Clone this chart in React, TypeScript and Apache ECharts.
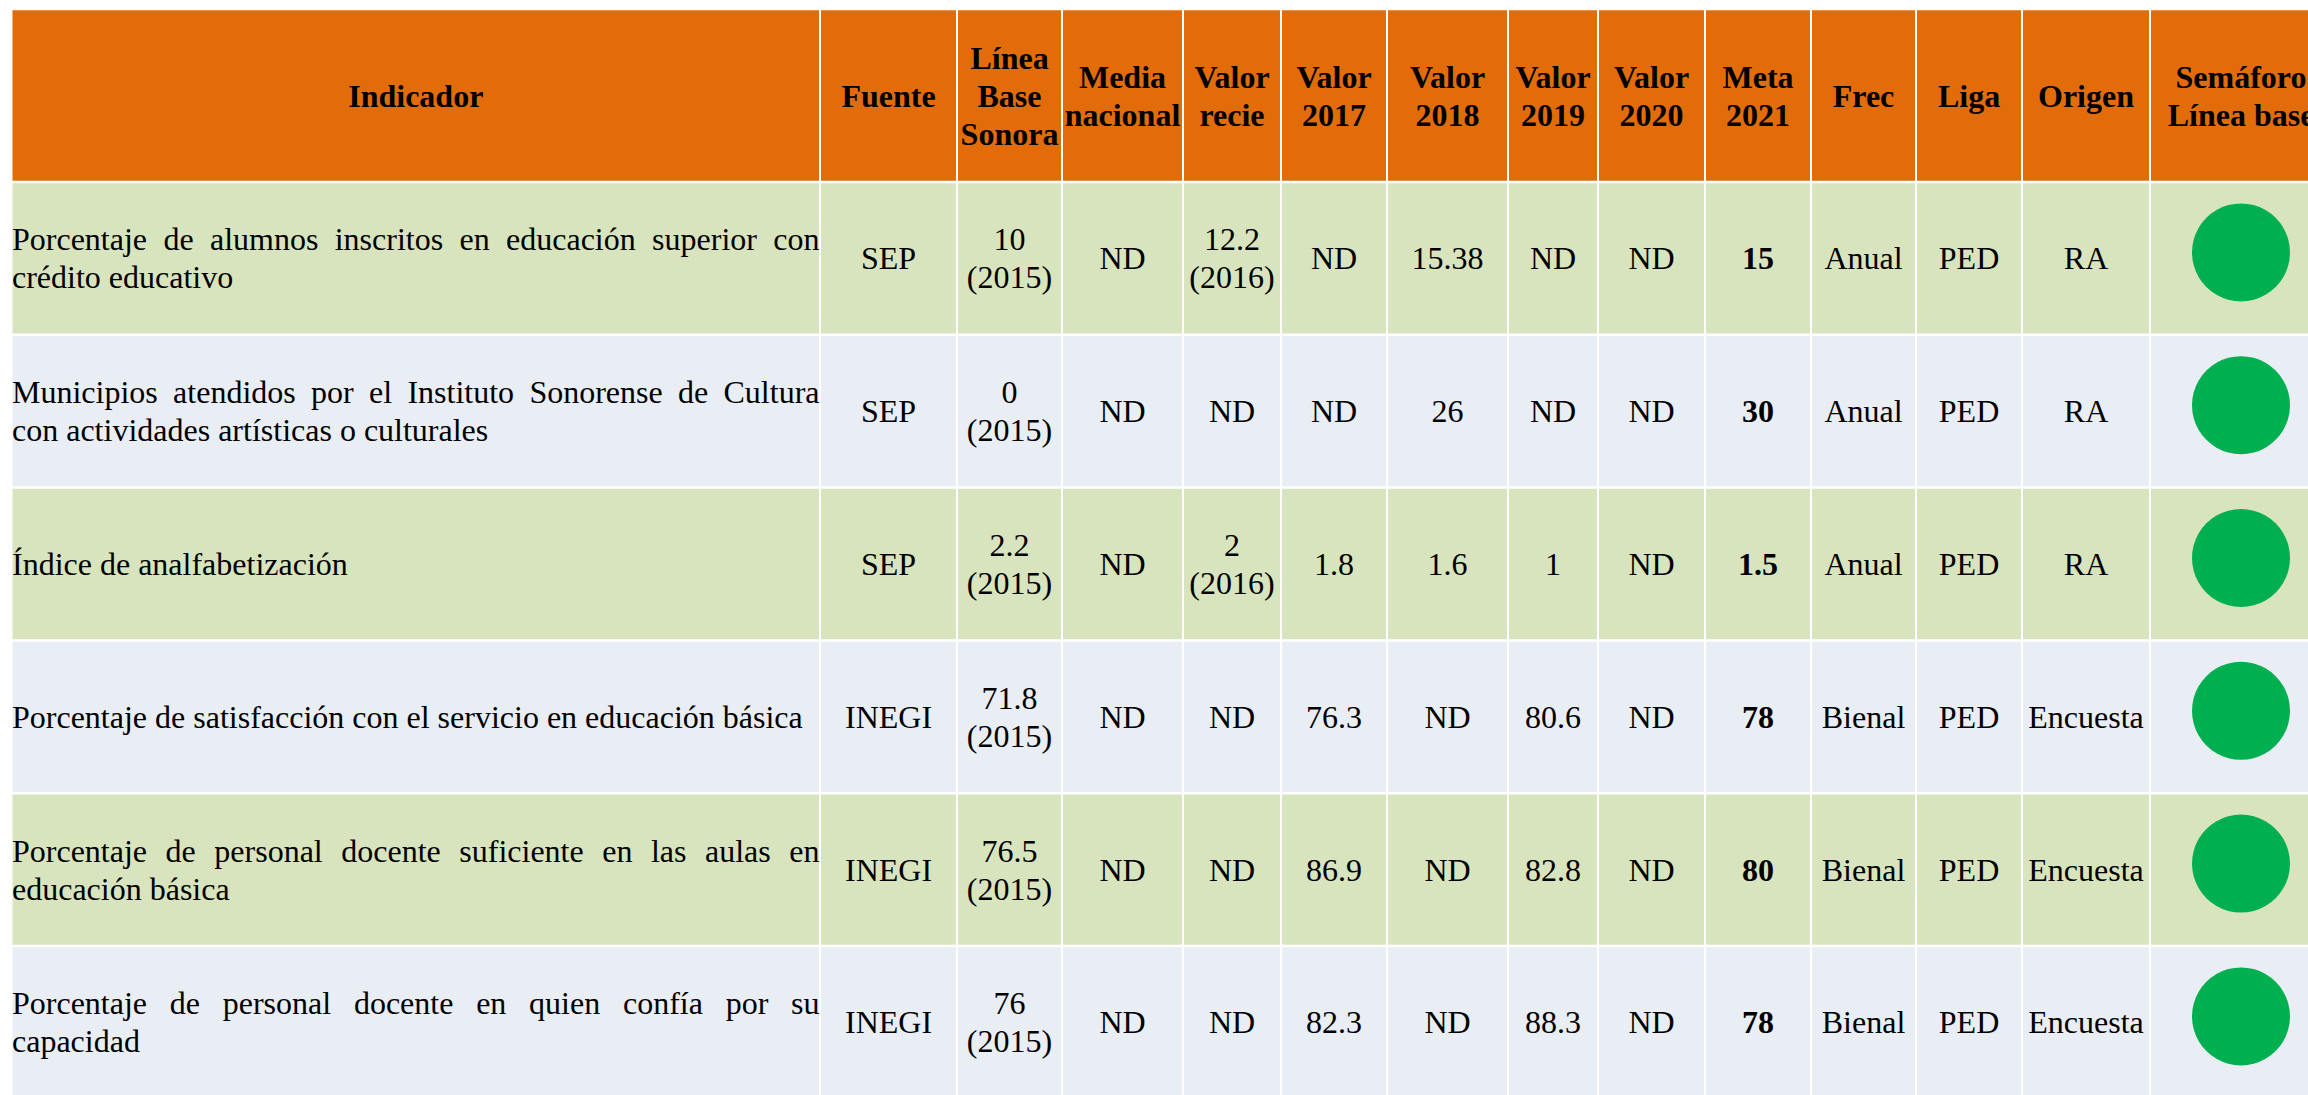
import React, { useEffect, useRef } from "react";
import * as echarts from "echarts";

// ---------- DATA ----------
const headers = [
  "Indicador",
  "Fuente",
  "Línea\nBase\nSonora",
  "Media\nnacional",
  "Valor\nrecie",
  "Valor\n2017",
  "Valor\n2018",
  "Valor\n2019",
  "Valor\n2020",
  "Meta\n2021",
  "Frec",
  "Liga",
  "Origen",
  "Semáforo\nLínea base",
];

const indicadores = [
  ["Porcentaje de alumnos inscritos en educación superior con", "crédito educativo"],
  ["Municipios atendidos por el Instituto Sonorense de Cultura", "con actividades artísticas o culturales"],
  ["Índice de analfabetización"],
  ["Porcentaje de satisfacción con el servicio en educación básica"],
  ["Porcentaje de personal docente suficiente en las aulas en", "educación básica"],
  ["Porcentaje de personal docente en quien confía por su", "capacidad"],
];
const fuente = ["SEP", "SEP", "SEP", "INEGI", "INEGI", "INEGI"];
const lineaBase = ["10\n(2015)", "0\n(2015)", "2.2\n(2015)", "71.8\n(2015)", "76.5\n(2015)", "76\n(2015)"];
const mediaNacional = ["ND", "ND", "ND", "ND", "ND", "ND"];
const valorReciente = ["12.2\n(2016)", "ND", "2\n(2016)", "ND", "ND", "ND"];
const valor2017 = ["ND", "ND", "1.8", "76.3", "86.9", "82.3"];
const valor2018 = ["15.38", "26", "1.6", "ND", "ND", "ND"];
const valor2019 = ["ND", "ND", "1", "80.6", "82.8", "88.3"];
const valor2020 = ["ND", "ND", "ND", "ND", "ND", "ND"];
const meta2021 = ["15", "30", "1.5", "78", "80", "78"];
const frecuencia = ["Anual", "Anual", "Anual", "Bienal", "Bienal", "Bienal"];
const liga = ["PED", "PED", "PED", "PED", "PED", "PED"];
const origen = ["RA", "RA", "RA", "Encuesta", "Encuesta", "Encuesta"];
const semaforo = ["verde", "verde", "verde", "verde", "verde", "verde"];

// ---------- LAYOUT / STYLE ----------
const W = 2308;
const H = 1095;
const colEdges = [11.5, 820, 957, 1062, 1183, 1281, 1387, 1508, 1598, 1705, 1811, 1916, 2022, 2150, 2332];
const rowEdges = [9, 182, 334.8, 487.6, 640.4, 793.2, 946, 1098.8];
const FONT = "Liberation Serif";
const HEAD_SIZE = 32;
const BODY_SIZE = 32;
const LINE_H = 38;
const HEAD_BG = "#E36C0A";
const ROW_BG = ["#D8E4BD", "#E9EDF4"];
const LIGHT_COLORS: Record<string, string> = { verde: "#00B050" };

export default function App() {
  const ref = useRef<HTMLDivElement>(null);

  useEffect(() => {
    const el = ref.current!;
    const chart = echarts.init(el, null, { renderer: "svg", width: W, height: H });

    const canvas = document.createElement("canvas");
    const ctx = canvas.getContext("2d")!;
    ctx.font = `${BODY_SIZE}px "Liberation Serif"`;
    const measure = (s: string) => ctx.measureText(s).width;

    const columns = [
      fuente, lineaBase, mediaNacional, valorReciente, valor2017, valor2018,
      valor2019, valor2020, meta2021, frecuencia, liga, origen,
    ];
    const boldCol = 9; // Meta 2021 (overall column index)

    const elements: any[] = [];
    const nCols = colEdges.length - 1;

    const cellRect = (c: number, r: number, fill: string) => {
      const x0 = colEdges[c] + 1;
      const x1 = colEdges[c + 1] - 1;
      const y0 = rowEdges[r] + 1.25;
      const y1 = rowEdges[r + 1] - 1.25;
      elements.push({
        type: "rect",
        shape: { x: x0, y: y0, width: x1 - x0, height: y1 - y0 },
        style: { fill },
        silent: true,
      });
    };

    const centerText = (text: string, cx: number, cy: number, size: number, bold: boolean) => {
      elements.push({
        type: "text",
        x: cx,
        y: cy,
        style: {
          text,
          fill: "#000000",
          fontFamily: FONT,
          fontSize: size,
          fontWeight: bold ? "bold" : "normal",
          align: "center",
          verticalAlign: "middle",
          lineHeight: LINE_H,
        },
        silent: true,
      });
    };

    // header
    for (let c = 0; c < nCols; c++) {
      cellRect(c, 0, HEAD_BG);
      const cx = (colEdges[c] + colEdges[c + 1]) / 2;
      const cy = (rowEdges[0] + rowEdges[1]) / 2;
      centerText(headers[c], cx, cy, HEAD_SIZE, true);
    }

    // body
    const textLeft = 12;
    const textRight = 819.5;
    for (let r = 0; r < indicadores.length; r++) {
      const ri = r + 1;
      const bg = ROW_BG[r % 2];
      for (let c = 0; c < nCols; c++) cellRect(c, ri, bg);
      const cy = (rowEdges[ri] + rowEdges[ri + 1]) / 2;

      // indicator text (justified except last line)
      const lines = indicadores[r];
      const n = lines.length;
      lines.forEach((line, li) => {
        const ly = cy + (li - (n - 1) / 2) * LINE_H;
        const isLast = li === n - 1;
        if (isLast) {
          elements.push({
            type: "text",
            x: textLeft,
            y: ly,
            style: {
              text: line,
              fill: "#000000",
              fontFamily: FONT,
              fontSize: BODY_SIZE,
              align: "left",
              verticalAlign: "middle",
            },
            silent: true,
          });
        } else {
          const words = line.split(" ");
          const widths = words.map(measure);
          const total = widths.reduce((a, b) => a + b, 0);
          const gap = (textRight - textLeft - total) / (words.length - 1);
          let x = textLeft;
          words.forEach((w, wi) => {
            elements.push({
              type: "text",
              x,
              y: ly,
              style: {
                text: w,
                fill: "#000000",
                fontFamily: FONT,
                fontSize: BODY_SIZE,
                align: "left",
                verticalAlign: "middle",
              },
              silent: true,
            });
            x += widths[wi] + gap;
          });
        }
      });

      // value columns
      columns.forEach((col, k) => {
        const c = k + 1;
        const cx = (colEdges[c] + colEdges[c + 1]) / 2;
        centerText(col[r], cx, cy, BODY_SIZE, c === boldCol);
      });

      // semáforo
      const sc = nCols - 1;
      const scx = (colEdges[sc] + colEdges[sc + 1]) / 2;
      elements.push({
        type: "circle",
        shape: { cx: scx, cy: cy - 6, r: 49 },
        style: { fill: LIGHT_COLORS[semaforo[r]] },
        silent: true,
      });
    }

    chart.setOption({
      animation: false,
      backgroundColor: "#ffffff",
      graphic: { elements },
    });

    return () => chart.dispose();
  }, []);

  return (
    <div
      ref={ref}
      style={{ position: "fixed", left: 0, top: 0, width: W, height: H, background: "#ffffff" }}
    />
  );
}
